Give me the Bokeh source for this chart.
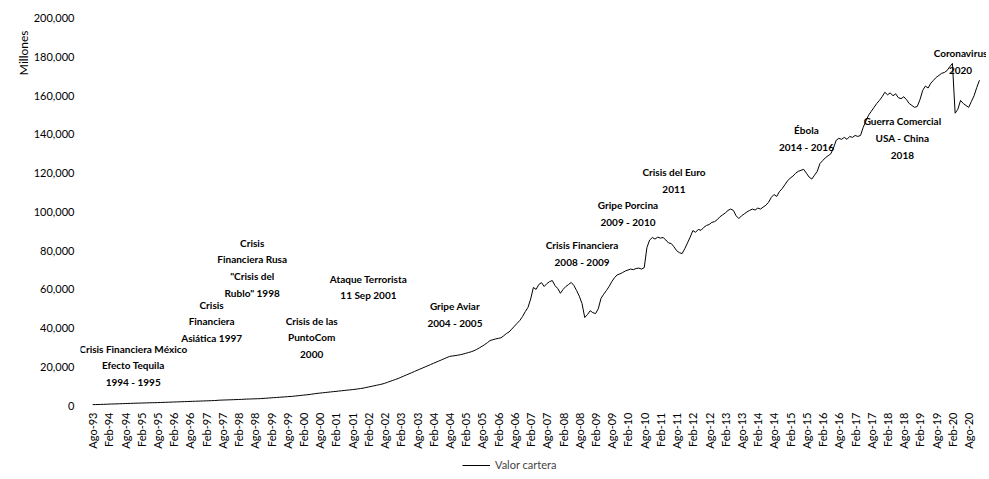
from bokeh.plotting import figure
from bokeh.layouts import column
from bokeh.models import (Range1d, FixedTicker, NumeralTickFormatter, Label, Title,
                          Legend, LegendItem, ColumnDataSource)
from bokeh.embed import file_html
from bokeh.resources import INLINE

# ---------------- data (monthly, Aug-1993 .. Dec-2020), millones ----------------
v1993 = [500, 520, 560, 600, 640]
v1994 = [700, 760, 800, 850, 900, 950, 1000, 1050, 1100, 1150, 1200, 1250]
v1995 = [1280, 1300, 1350, 1400, 1450, 1480, 1500, 1550, 1600, 1650, 1700, 1750]
v1996 = [1800, 1850, 1900, 1950, 2000, 2050, 2100, 2150, 2200, 2250, 2300, 2350]
v1997 = [2400, 2450, 2500, 2550, 2600, 2700, 2800, 2850, 2900, 2950, 3000, 3050]
v1998 = [3100, 3150, 3200, 3300, 3350, 3400, 3450, 3500, 3550, 3600, 3700, 3800]
v1999 = [3900, 4000, 4100, 4200, 4300, 4400, 4500, 4600, 4700, 4800, 4950, 5100]
v2000 = [5250, 5400, 5550, 5700, 5900, 6100, 6300, 6450, 6600, 6750, 6900, 7050]
v2001 = [7200, 7350, 7500, 7650, 7800, 7950, 8100, 8250, 8400, 8600, 8800, 9000]
v2002 = [9300, 9600, 9900, 10200, 10500, 10800, 11100, 11500, 12000, 12500, 13000, 13500]
v2003 = [14000, 14600, 15200, 15800, 16400, 17000, 17600, 18200, 18800, 19400, 20000, 20600]
v2004 = [21200, 21800, 22400, 23000, 23600, 24200, 24800, 25400, 25600, 25800, 26000, 26300]
v2005 = [26600, 27000, 27400, 27800, 28300, 29000, 29800, 30600, 31500, 32500, 33600, 34000]
v2006 = [34400, 34700, 35000, 36000, 37200, 38000, 39500, 41000, 42500, 44000, 46000, 48500]
v2007 = [50700, 55000, 61000, 60000, 62500, 63500, 61500, 63000, 64000, 64600, 62000, 60500]
v2008 = [58000, 60000, 61500, 62500, 63600, 62000, 59400, 56500, 52700, 45500, 47000, 49000]
v2009 = [48000, 47500, 50000, 55300, 57500, 59400, 61500, 64000, 66000, 67500, 68000, 68700]
v2010 = [69500, 70000, 70500, 70200, 70800, 71000, 70500, 71200, 81600, 85500, 86800, 86000]
v2011 = [87000, 86500, 86800, 85500, 84000, 83700, 82000, 80000, 79000, 78500, 81000, 84000]
v2012 = [87000, 90400, 89500, 91000, 90500, 92000, 93000, 93500, 94600, 95000, 96000, 97500]
v2013 = [98500, 99500, 100800, 101500, 100800, 98000, 96600, 98000, 99000, 100000, 100800, 101500]
v2014 = [101000, 102000, 101500, 102500, 103500, 105000, 107500, 109000, 108000, 110500, 112000, 114000]
v2015 = [116000, 117500, 118500, 120000, 121000, 121500, 122000, 120000, 118000, 117000, 119000, 121000]
v2016 = [125000, 126500, 128000, 129000, 130000, 133000, 137000, 138000, 137500, 138500, 137500, 139000]
v2017 = [138500, 139500, 139000, 139500, 143700, 147000, 150000, 152000, 154000, 156000, 157600, 159500]
v2018 = [161800, 160500, 161500, 160000, 161000, 159000, 158500, 159500, 158000, 156000, 155000, 154000]
v2019 = [154500, 158000, 162800, 165000, 164000, 166500, 168000, 169500, 170500, 171600, 172000, 173000]
v2020 = [175000, 176700, 151000, 153000, 157600, 156000, 155000, 154000, 157000, 160000, 164300, 168000]

values = (v1993 + v1994 + v1995 + v1996 + v1997 + v1998 + v1999 + v2000 + v2001 + v2002 +
          v2003 + v2004 + v2005 + v2006 + v2007 + v2008 + v2009 + v2010 + v2011 + v2012 +
          v2013 + v2014 + v2015 + v2016 + v2017 + v2018 + v2019 + v2020)
months = list(range(len(values)))  # month index, 0 = Ago-93

tick_labels = ["Ago-93", "Feb-94", "Ago-94", "Feb-95", "Ago-95", "Feb-96", "Ago-96", "Feb-97",
               "Ago-97", "Feb-98", "Ago-98", "Feb-99", "Ago-99", "Feb-00", "Ago-00", "Feb-01",
               "Ago-01", "Feb-02", "Ago-02", "Feb-03", "Ago-03", "Feb-04", "Ago-04", "Feb-05",
               "Ago-05", "Feb-06", "Ago-06", "Feb-07", "Ago-07", "Feb-08", "Ago-08", "Feb-09",
               "Ago-09", "Feb-10", "Ago-10", "Feb-11", "Ago-11", "Feb-12", "Ago-12", "Feb-13",
               "Ago-13", "Feb-14", "Ago-14", "Feb-15", "Ago-15", "Feb-16", "Ago-16", "Feb-17",
               "Ago-17", "Feb-18", "Ago-18", "Feb-19", "Ago-19", "Feb-20", "Ago-20"]
tick_months = [6 * i for i in range(len(tick_labels))]

y_ticks = [0, 20000, 40000, 60000, 80000, 100000, 120000, 140000, 160000, 180000, 200000]

ann_text = ["Crisis Financiera México\nEfecto Tequila\n1994 - 1995",
            "Crisis\nFinanciera\nAsiática 1997",
            "Crisis\nFinanciera Rusa\n\"Crisis del\nRublo\" 1998",
            "Crisis de las\nPuntoCom\n2000",
            "Ataque Terrorista\n11 Sep 2001",
            "Gripe Aviar\n2004 - 2005",
            "Crisis Financiera\n2008 - 2009",
            "Gripe Porcina\n2009 - 2010",
            "Crisis del Euro\n2011",
            "Ébola\n2014 - 2016",
            "Guerra Comercial\nUSA - China\n2018",
            "Coronavirus\n2020"]
ann_x = [15, 44, 59, 81, 102, 134, 181, 198, 215, 264, 299.5, 321]
ann_y = [32500, 55300, 87300, 47000, 68700, 54300, 85800, 106500, 123500, 145200, 149900, 185000]

y_title = "Millones"
legend_label = "Valor cartera"

FONT = "Lato"

p = figure(width=986, height=454, output_backend="svg", toolbar_location=None,
           x_range=Range1d(-4.5, 330.6), y_range=Range1d(-1500, 203000),
           min_border_left=80, min_border_right=0, min_border_top=12, min_border_bottom=46)
p.outline_line_color = None
p.grid.visible = False

src = ColumnDataSource(dict(m=months, v=values))
p.line("m", "v", source=src, line_color="black", line_width=1)

p.xaxis.ticker = FixedTicker(ticks=tick_months)
p.xaxis.major_label_overrides = {m: l for m, l in zip(tick_months, tick_labels)}
p.xaxis.major_label_orientation = 1.5708
p.xaxis.axis_line_color = None
p.xaxis.major_tick_line_color = None
p.xaxis.minor_tick_line_color = None
p.xaxis.major_tick_out = 0
p.xaxis.major_label_standoff = 4
p.xaxis.major_label_text_font = FONT
p.xaxis.major_label_text_font_size = "11px"
p.xaxis.major_label_text_color = "black"

p.yaxis.ticker = FixedTicker(ticks=y_ticks)
p.yaxis.formatter = NumeralTickFormatter(format="0,0")
p.yaxis.axis_line_color = None
p.yaxis.major_tick_line_color = None
p.yaxis.minor_tick_line_color = None
p.yaxis.major_tick_out = 0
p.yaxis.major_label_standoff = 6
p.yaxis.major_label_text_font = FONT
p.yaxis.major_label_text_font_size = "11px"
p.yaxis.major_label_text_color = "black"

# axis title at the top-left, as in the reference
p.add_layout(Title(text=y_title, align="right", offset=18, text_font=FONT,
                   text_font_style="normal", text_font_size="12px",
                   text_color="black", standoff=0), "left")

for t, x, y in zip(ann_text, ann_x, ann_y):
    p.add_layout(Label(x=x, y=y, text=t, text_align="center", text_baseline="top",
                       text_font=FONT, text_font_style="bold", text_font_size="10px",
                       text_line_height=1.4, text_color="black"))

# legend strip below the chart
pl = figure(width=986, height=20, output_backend="svg", toolbar_location=None,
            x_range=Range1d(0, 1), y_range=Range1d(0, 1), min_border=0)
pl.axis.visible = False
pl.grid.visible = False
pl.outline_line_color = None
lr = pl.line("m", "v", source=src, line_color="black", line_width=1)
legend = Legend(items=[LegendItem(label=legend_label, renderers=[lr])],
                location=(382, 3), orientation="horizontal",
                label_text_font=FONT, label_text_font_size="11px",
                border_line_color=None, background_fill_alpha=0,
                padding=0, margin=0, spacing=0, glyph_width=28, glyph_height=12,
                label_height=12)
pl.add_layout(legend, "center")

open("out.html", "w").write(file_html(column(p, pl), INLINE))
